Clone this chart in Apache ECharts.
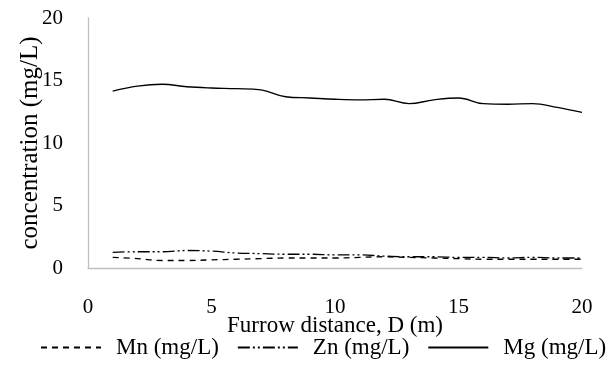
<!DOCTYPE html>
<html>
<head>
<meta charset="utf-8">
<script src="https://cdn.jsdelivr.net/npm/echarts@6/dist/echarts.min.js"></script>
<style>
  html, body { margin: 0; padding: 0; background: #fff; }
  #chart { width: 608px; height: 368px; }
</style>
</head>
<body>
<div id="chart"></div>
<script>
// Furrow distance (m)
const distance = [1, 2, 3, 4, 5, 6, 7, 8, 9, 10, 11, 12, 13, 14, 15, 16, 17, 18, 19, 20];
// concentrations (mg/L)
const mn = [0.85, 0.75, 0.6, 0.6, 0.65, 0.7, 0.75, 0.8, 0.8, 0.8, 0.85, 0.9, 0.85, 0.8, 0.75, 0.7, 0.7, 0.7, 0.7, 0.7];
const zn = [1.25, 1.3, 1.3, 1.4, 1.35, 1.2, 1.15, 1.1, 1.1, 1.05, 1.05, 0.95, 0.9, 0.9, 0.85, 0.85, 0.8, 0.85, 0.8, 0.8];
const mg = [14.15, 14.55, 14.7, 14.5, 14.4, 14.35, 14.25, 13.7, 13.6, 13.5, 13.45, 13.5, 13.15, 13.45, 13.6, 13.15, 13.1, 13.15, 12.85, 12.45];

const FONT = "Liberation Serif";
const pair = (ys) => distance.map((x, i) => [x, ys[i]]);

const chart = echarts.init(document.getElementById("chart"), null, { renderer: "canvas" });

// 公共线条样式
const lineSeries = (name, data, dash) => ({
  name, type: "line", data,
  smooth: 0.4, symbol: "none",
  lineStyle: { color: "#000", width: 1.3, type: dash },
  itemStyle: { color: "#000" },
});

chart.setOption({
  animation: false,
  textStyle: { fontFamily: FONT },
  grid: { left: 88, right: 26, top: 18, bottom: 100 },
  xAxis: {
    type: "value", min: 0, max: 20, interval: 5,
    name: "Furrow distance, D (m)",
    nameLocation: "middle", nameGap: 46, nameMoveOverlap: false,
    nameTextStyle: { fontFamily: FONT, fontSize: 23, color: "#000" },
    axisLine: { show: true, lineStyle: { color: "#bfbfbf", width: 1.3 } },
    axisTick: { show: false },
    splitLine: { show: false },
    axisLabel: { fontFamily: FONT, fontSize: 21, color: "#000", margin: 29 },
  },
  yAxis: {
    type: "value", min: 0, max: 20, interval: 5,
    name: "concentration (mg/L)",
    nameLocation: "middle", nameGap: 45, nameMoveOverlap: false,
    nameTextStyle: { fontFamily: FONT, fontSize: 25, color: "#000" },
    axisLine: { show: true, lineStyle: { color: "#bfbfbf", width: 1.3 } },
    axisTick: { show: false },
    splitLine: { show: false },
    axisLabel: { fontFamily: FONT, fontSize: 21, color: "#000", margin: 25 },
  },
  legend: {
    top: 336, left: 40, width: 568, padding: 0,
    itemWidth: 60, itemHeight: 10, itemGap: 18,
    itemStyle: { opacity: 0 },
    textStyle: { fontFamily: FONT, fontSize: 23, color: "#000", padding: [0, 0, 0, 10] },
    data: ["Mn (mg/L)", "Zn (mg/L)", "Mg (mg/L)"],
  },
  series: [
    lineSeries("Mn (mg/L)", pair(mn), [6, 5]),
    lineSeries("Zn (mg/L)", pair(zn), [12, 3, 2, 3, 2, 3]),
    lineSeries("Mg (mg/L)", pair(mg), "solid"),
  ],
});
</script>
</body>
</html>
